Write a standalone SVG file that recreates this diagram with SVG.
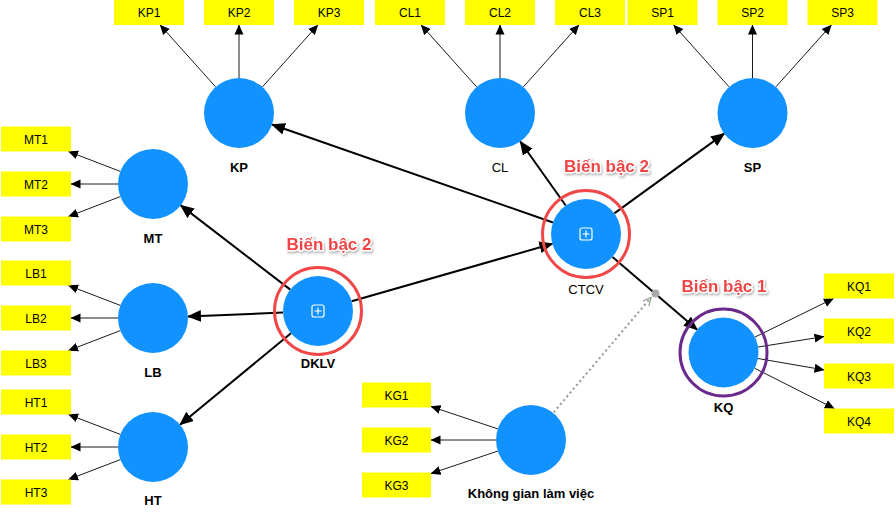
<svg xmlns="http://www.w3.org/2000/svg" width="896" height="512" viewBox="0 0 896 512">
<style>
.box{fill:#ffff00}
.bt{font-family:"Liberation Sans",Arial,sans-serif;font-size:12px;fill:#000;text-anchor:middle}
.lv{fill:#1292ff}
.lbl{font-family:"Liberation Sans",Arial,sans-serif;font-size:13px;font-weight:bold;fill:#000;text-anchor:middle}
.lbn{font-weight:normal}
.thin{stroke:#1a1a1a;stroke-width:1;fill:none;marker-end:url(#at)}
.thick{stroke:#000;stroke-width:2;fill:none;marker-end:url(#ah)}
.ring2{fill:none;stroke:#f04848;stroke-width:3}
.ring1{fill:none;stroke:#6a2a8c;stroke-width:3}
.tag{font-family:"Liberation Sans",Arial,sans-serif;font-size:17px;font-weight:bold;fill:#f04545;stroke:#fff;stroke-width:3;paint-order:stroke;stroke-linejoin:round;text-anchor:middle;filter:url(#sh)}
.plus{fill:none;stroke:#fff;stroke-width:1.2}
</style>
<defs>
<marker id="ah" markerWidth="14" markerHeight="12" refX="13" refY="6" orient="auto" markerUnits="userSpaceOnUse"><path d="M0,0 L14,6 L0,12 z" fill="#000"/></marker>
<marker id="at" markerWidth="10" markerHeight="10" refX="9.5" refY="5" orient="auto" markerUnits="userSpaceOnUse"><path d="M0,0.5 L10,5 L0,9.5 z" fill="#000"/></marker>
<marker id="ad" markerWidth="10" markerHeight="10" refX="8" refY="4" orient="auto" markerUnits="userSpaceOnUse"><path d="M0,0 L8,4 L0,8" fill="none" stroke="#8c9c8c" stroke-width="1.2"/></marker>
<filter id="sh" x="-10%" y="-30%" width="130%" height="170%"><feDropShadow dx="1" dy="1.5" stdDeviation="1.2" flood-color="#777" flood-opacity="0.6"/></filter>
</defs>

<g id="connectors">
<!-- structural -->
<line class="thick" x1="553" y1="222.5" x2="272" y2="124.5"/>
<line class="thick" x1="565.7" y1="205.5" x2="520.3" y2="141.5"/>
<line class="thick" x1="614.3" y1="213.4" x2="724.2" y2="133.6"/>
<line class="thick" x1="612.5" y1="256.9" x2="697" y2="329.6"/>
<line class="thick" x1="351.6" y1="301.3" x2="552.4" y2="243.7"/>
<line class="thick" x1="290.3" y1="289.6" x2="180.7" y2="205.4"/>
<line class="thick" x1="283" y1="312.5" x2="188" y2="316.5"/>
<line class="thick" x1="291" y1="333.3" x2="180" y2="424.7"/>
<!-- indicators -->
<line class="thin" x1="215.6" y1="86.9" x2="160.2" y2="25"/>
<line class="thin" x1="239" y1="78" x2="239" y2="25"/>
<line class="thin" x1="262.4" y1="86.9" x2="317.8" y2="25"/>
<line class="thin" x1="476.6" y1="86.9" x2="421.2" y2="25"/>
<line class="thin" x1="500" y1="78" x2="500" y2="25"/>
<line class="thin" x1="523.4" y1="86.9" x2="578.8" y2="25"/>
<line class="thin" x1="729.1" y1="86.9" x2="673.7" y2="25"/>
<line class="thin" x1="752.5" y1="78" x2="752.5" y2="25"/>
<line class="thin" x1="775.9" y1="86.9" x2="831.3" y2="25"/>
<line class="thin" x1="120.3" y1="171.4" x2="68.5" y2="151.5"/>
<line class="thin" x1="118" y1="184" x2="71" y2="184"/>
<line class="thin" x1="120.3" y1="196.6" x2="68.5" y2="216.5"/>
<line class="thin" x1="120.3" y1="305.4" x2="68.5" y2="285.5"/>
<line class="thin" x1="118" y1="318" x2="71" y2="318"/>
<line class="thin" x1="120.3" y1="330.6" x2="68.5" y2="350.5"/>
<line class="thin" x1="120.3" y1="434.4" x2="68.5" y2="414.5"/>
<line class="thin" x1="118" y1="447" x2="71" y2="447"/>
<line class="thin" x1="120.3" y1="459.6" x2="68.5" y2="479.5"/>
<line class="thin" x1="497.8" y1="428.9" x2="431" y2="406.5"/>
<line class="thin" x1="496" y1="440" x2="431" y2="440"/>
<line class="thin" x1="497.8" y1="451.1" x2="431" y2="473.5"/>
<line class="thin" x1="754.9" y1="337.1" x2="833.5" y2="298.5"/>
<line class="thin" x1="758.1" y1="347" x2="824" y2="336.6"/>
<line class="thin" x1="758" y1="358.5" x2="824" y2="369.9"/>
<line class="thin" x1="754.7" y1="368.3" x2="834.3" y2="408.5"/>
<!-- moderating -->
<line x1="553.7" y1="412.3" x2="651" y2="297.5" stroke="#8c9c8c" stroke-width="2" stroke-dasharray="2,3" marker-end="url(#ad)"/>
<circle cx="655.5" cy="293.5" r="4" fill="#aaaaaa"/>
</g>

<g id="node-KP">
<circle class="lv" cx="239" cy="113" r="35"/>
<text class="lbl" x="239" y="171.5">KP</text>
</g>
<g id="node-CL">
<circle class="lv" cx="500" cy="113" r="35"/>
<text class="lbl lbn" x="500" y="171.5">CL</text>
</g>
<g id="node-SP">
<circle class="lv" cx="752.5" cy="113" r="35"/>
<text class="lbl" x="752.5" y="171.5">SP</text>
</g>
<g id="node-MT">
<circle class="lv" cx="153" cy="184" r="35"/>
<text class="lbl" x="153" y="242.5">MT</text>
</g>
<g id="node-LB">
<circle class="lv" cx="153" cy="318" r="35"/>
<text class="lbl" x="153" y="376.5">LB</text>
</g>
<g id="node-HT">
<circle class="lv" cx="153" cy="447" r="35"/>
<text class="lbl" x="153" y="505">HT</text>
</g>
<g id="node-DKLV">
<circle class="lv" cx="318" cy="311" r="35"/>
<circle class="ring2" cx="318" cy="311" r="43.5"/>
<rect class="plus" x="312" y="305" width="12" height="12" rx="2"/>
<path class="plus" d="M318,307.5 V314.5 M314.5,311 H321.5"/>
<text class="lbl" x="318" y="368">DKLV</text>
<text class="tag" x="329" y="250">Biến bậc 2</text>
</g>
<g id="node-CTCV">
<circle class="lv" cx="586" cy="234" r="35"/>
<circle class="ring2" cx="586" cy="234" r="43.5"/>
<rect class="plus" x="580" y="228" width="12" height="12" rx="2"/>
<path class="plus" d="M586,230.5 V237.5 M582.5,234 H589.5"/>
<text class="lbl lbn" x="586" y="294">CTCV</text>
<text class="tag" x="606.5" y="172">Biến bậc 2</text>
</g>
<g id="node-KQ">
<circle class="lv" cx="723.5" cy="352.5" r="35"/>
<circle class="ring1" cx="723.5" cy="352.5" r="43.5"/>
<text class="lbl" x="723.5" y="411.5">KQ</text>
<text class="tag" x="724" y="292">Biến bậc 1</text>
</g>
<g id="node-KG">
<circle class="lv" cx="531" cy="440" r="35"/>
<text class="lbl" x="531" y="498">Không gian làm việc</text>
</g>

<g id="indicators">
<g id="KP1"><rect class="box" x="114" y="0" width="70" height="25"/><text class="bt" x="149" y="17">KP1</text></g>
<g id="KP2"><rect class="box" x="204" y="0" width="70" height="25"/><text class="bt" x="239" y="17">KP2</text></g>
<g id="KP3"><rect class="box" x="294" y="0" width="70" height="25"/><text class="bt" x="329" y="17">KP3</text></g>
<g id="CL1"><rect class="box" x="375" y="0" width="70" height="25"/><text class="bt" x="410" y="17">CL1</text></g>
<g id="CL2"><rect class="box" x="465" y="0" width="70" height="25"/><text class="bt" x="500" y="17">CL2</text></g>
<g id="CL3"><rect class="box" x="555" y="0" width="70" height="25"/><text class="bt" x="590" y="17">CL3</text></g>
<g id="SP1"><rect class="box" x="627.5" y="0" width="70" height="25"/><text class="bt" x="662.5" y="17">SP1</text></g>
<g id="SP2"><rect class="box" x="717.5" y="0" width="70" height="25"/><text class="bt" x="752.5" y="17">SP2</text></g>
<g id="SP3"><rect class="box" x="807.5" y="0" width="70" height="25"/><text class="bt" x="842.5" y="17">SP3</text></g>
<g id="MT1"><rect class="box" x="1" y="126.5" width="70" height="25"/><text class="bt" x="36" y="143.5">MT1</text></g>
<g id="MT2"><rect class="box" x="1" y="171.5" width="70" height="25"/><text class="bt" x="36" y="188.5">MT2</text></g>
<g id="MT3"><rect class="box" x="1" y="216.5" width="70" height="25"/><text class="bt" x="36" y="233.5">MT3</text></g>
<g id="LB1"><rect class="box" x="1" y="260.5" width="70" height="25"/><text class="bt" x="36" y="277.5">LB1</text></g>
<g id="LB2"><rect class="box" x="1" y="305.5" width="70" height="25"/><text class="bt" x="36" y="322.5">LB2</text></g>
<g id="LB3"><rect class="box" x="1" y="350.5" width="70" height="25"/><text class="bt" x="36" y="367.5">LB3</text></g>
<g id="HT1"><rect class="box" x="1" y="389.5" width="70" height="25"/><text class="bt" x="36" y="406.5">HT1</text></g>
<g id="HT2"><rect class="box" x="1" y="434.5" width="70" height="25"/><text class="bt" x="36" y="451.5">HT2</text></g>
<g id="HT3"><rect class="box" x="1" y="479.5" width="70" height="25"/><text class="bt" x="36" y="496.5">HT3</text></g>
<g id="KG1"><rect class="box" x="362" y="382.5" width="69" height="25"/><text class="bt" x="396.5" y="399.5">KG1</text></g>
<g id="KG2"><rect class="box" x="362" y="427.5" width="69" height="25"/><text class="bt" x="396.5" y="444.5">KG2</text></g>
<g id="KG3"><rect class="box" x="362" y="472.5" width="69" height="25"/><text class="bt" x="396.5" y="489.5">KG3</text></g>
<g id="KQ1"><rect class="box" x="824" y="273.5" width="70" height="25"/><text class="bt" x="859" y="290.5">KQ1</text></g>
<g id="KQ2"><rect class="box" x="824" y="318.5" width="70" height="25"/><text class="bt" x="859" y="335.5">KQ2</text></g>
<g id="KQ3"><rect class="box" x="824" y="363.5" width="70" height="25"/><text class="bt" x="859" y="380.5">KQ3</text></g>
<g id="KQ4"><rect class="box" x="824" y="408.5" width="70" height="25"/><text class="bt" x="859" y="425.5">KQ4</text></g>
</g>
</svg>
